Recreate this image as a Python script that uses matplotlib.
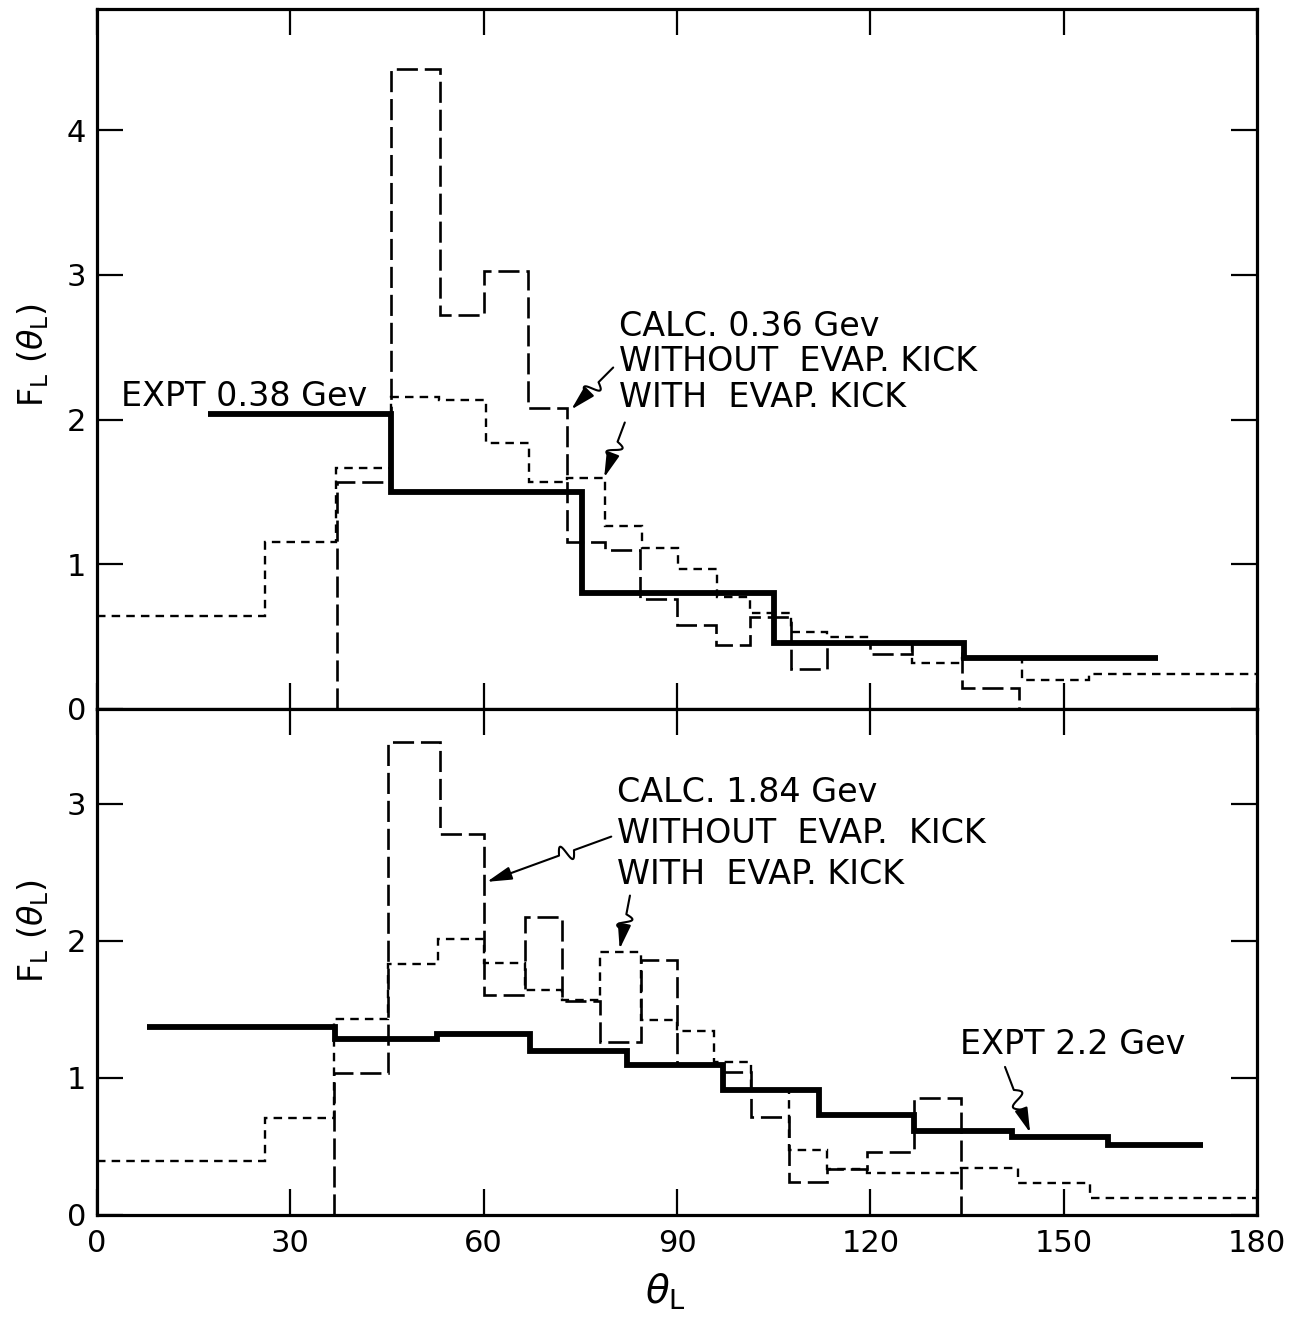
import numpy as np
import matplotlib
matplotlib.use("Agg")
import matplotlib.pyplot as plt
from matplotlib.patches import FancyArrowPatch
from matplotlib.path import Path
from matplotlib.transforms import IdentityTransform

plt.rcParams['font.family'] = ['DejaVu Sans']
plt.rcParams['mathtext.fontset'] = 'dejavusans'

# ---------------- data: top panel (0.36 / 0.38 GeV) ----------------
top_expt_edges = [17.2, 45.6, 75.2, 105.1, 134.5, 164.6]
top_expt_vals = [2.04, 1.50, 0.80, 0.457, 0.355]

top_without_edges = [37.2, 45.6, 53.3, 60.0, 66.9, 72.9, 78.8, 84.3, 90.0, 96.1,
                     101.3, 107.7, 113.3, 120.0, 126.5, 134.2, 143.1]
top_without_vals = [1.567, 4.42, 2.72, 3.03, 2.08, 1.156, 1.099, 0.758, 0.58, 0.442,
                    0.634, 0.276, 0.465, 0.38, 0.46, 0.143]

top_with_edges = [0, 26.0, 37.1, 45.6, 53.0, 60.3, 67.0, 72.9, 78.8, 84.6, 90.1,
                  96.2, 101.3, 107.7, 113.3, 119.8, 126.5, 134.3, 143.5, 154.0, 180]
top_with_vals = [0.645, 1.156, 1.668, 2.158, 2.135, 1.836, 1.571, 1.599, 1.267, 1.11,
                 0.965, 0.776, 0.666, 0.534, 0.50, 0.46, 0.32, 0.35, 0.20, 0.24]

# ---------------- data: bottom panel (1.84 / 2.2 GeV) ----------------
bot_expt_edges = [7.8, 37.0, 52.8, 67.2, 82.2, 97.1, 112.0, 126.7, 142.0, 156.9, 171.6]
bot_expt_vals = [1.369, 1.281, 1.32, 1.198, 1.094, 0.912, 0.729, 0.615, 0.571, 0.51]

bot_without_edges = [36.8, 45.2, 53.3, 60.0, 66.4, 72.1, 78.0, 84.4, 90.0, 97.1,
                     101.5, 107.4, 113.3, 119.5, 126.7, 134.0]
bot_without_vals = [1.034, 3.448, 2.779, 1.605, 2.176, 1.56, 1.264, 1.86, 1.094, 1.045,
                    0.717, 0.243, 0.333, 0.46, 0.851]

bot_with_edges = [0, 26.0, 36.7, 45.2, 52.9, 60.0, 66.4, 72.1, 78.0, 84.4, 90.0,
                  95.8, 101.5, 107.4, 113.3, 119.5, 134.0, 142.9, 154.1, 180]
bot_with_vals = [0.396, 0.705, 1.427, 1.831, 2.01, 1.836, 1.641, 1.568, 1.92, 1.422,
                 1.344, 1.118, 0.91, 0.474, 0.333, 0.304, 0.34, 0.231, 0.122]

x_ticks = [0, 30, 60, 90, 120, 150, 180]
x_ticklabels = ['0', '30', '60', '90', '120', '150', '180']
top_yticks = [0, 1, 2, 3, 4]
bot_yticks = [0, 1, 2, 3]

# ---------------- figure ----------------
W, H = 1299, 1322
fig = plt.figure(figsize=(W / 100, H / 100), dpi=100)
left = 97 / W
width = (1257 - 97) / W
ax1 = fig.add_axes([left, 1 - 709 / H, width, (709 - 9) / H])
ax2 = fig.add_axes([left, 1 - 1215 / H, width, (1215 - 709) / H])

ax1.set_ylim(0, (709 - 9) / 144.7)
ax2.set_ylim(0, (1215 - 709) / 137.1)

FS = 22
TFS = 24
for ax, yt in ((ax1, top_yticks), (ax2, bot_yticks)):
    ax.set_xlim(0, 180)
    ax.set_xticks(x_ticks)
    ax.set_yticks(yt)
    ax.set_yticklabels([str(v) for v in yt])
    for s in ax.spines.values():
        s.set_linewidth(2.3)
    ax.tick_params(direction='in', length=19, width=1.6, top=True, right=True,
                   labelsize=FS, pad=8)
ax1.tick_params(labelbottom=False)
ax2.set_xticklabels(x_ticklabels)
ax2.tick_params(axis='x', pad=10)

DASH = (0, (8, 2.6))
DOT = (0, (3.6, 2.6))


def draw_panel(ax, ee, ev, we, wv, de, dv):
    ax.stairs(dv, de, baseline=None, color='black', lw=1.7, linestyle=DOT, zorder=3)
    ax.stairs(wv, we, baseline=0, color='black', lw=1.9, linestyle=DASH, zorder=3)
    ax.stairs(ev, ee, baseline=None, color='black', lw=4.2, zorder=4)


draw_panel(ax1, top_expt_edges, top_expt_vals, top_without_edges, top_without_vals,
           top_with_edges, top_with_vals)
draw_panel(ax2, bot_expt_edges, bot_expt_vals, bot_without_edges, bot_without_vals,
           bot_with_edges, bot_with_vals)

# ---------------- labels ----------------
ylab = r'F$_{\mathregular{L}}$ ($\theta_{\mathregular{L}}$)'
ax1.set_ylabel(ylab, fontsize=24)
ax2.set_ylabel(ylab, fontsize=24)
ax1.yaxis.set_label_coords(-0.040, 0.505)
ax2.yaxis.set_label_coords(-0.040, 0.56)
ax2.set_xlabel(r'$\theta_{\mathregular{L}}$', fontsize=28)
ax2.xaxis.set_label_coords(0.49, -0.112)

# ---------------- annotations ----------------
ax1.text(3.8, 2.16, 'EXPT 0.38 Gev', fontsize=TFS, va='center', ha='left')
ax1.text(81.0, 2.64, 'CALC. 0.36 Gev', fontsize=TFS, va='center', ha='left')
ax1.text(81.0, 2.40, 'WITHOUT  EVAP. KICK', fontsize=TFS, va='center', ha='left')
ax1.text(81.0, 2.15, 'WITH  EVAP. KICK', fontsize=TFS, va='center', ha='left')

ax2.text(80.7, 3.08, 'CALC. 1.84 Gev', fontsize=TFS, va='center', ha='left')
ax2.text(80.7, 2.78, 'WITHOUT  EVAP.  KICK', fontsize=TFS, va='center', ha='left')
ax2.text(80.7, 2.48, 'WITH  EVAP. KICK', fontsize=TFS, va='center', ha='left')
ax2.text(133.9, 1.247, 'EXPT 2.2 Gev', fontsize=TFS, va='center', ha='left')


def wavy_arrow(ax, start, end, t0=0.35, w=0.3, amp=7.0):
    S = np.array(ax.transData.transform(start))
    E = np.array(ax.transData.transform(end))
    d = E - S
    L = np.hypot(*d)
    u = d / L
    n = np.array([-u[1], u[0]])
    pts = [S]
    for t in np.linspace(t0, t0 + w, 25):
        off = amp * np.sin(2 * np.pi * (t - t0) / w)
        pts.append(S + d * t + n * off)
    pts.append(E)
    path = Path(np.array(pts))
    arr = FancyArrowPatch(path=path, arrowstyle='-|>,head_length=0.75,head_width=0.2',
                          mutation_scale=20, color='black', lw=1.5,
                          transform=IdentityTransform(), zorder=6)
    fig.add_artist(arr)


wavy_arrow(ax1, (80.1, 2.36), (73.6, 2.07))
wavy_arrow(ax1, (81.9, 1.98), (78.7, 1.60))
wavy_arrow(ax2, (79.8, 2.76), (60.5, 2.43), t0=0.3, w=0.12, amp=8)
wavy_arrow(ax2, (82.7, 2.33), (81.1, 1.94))
wavy_arrow(ax2, (140.9, 1.08), (144.8, 0.60))

fig.savefig('out.png', dpi=100)
